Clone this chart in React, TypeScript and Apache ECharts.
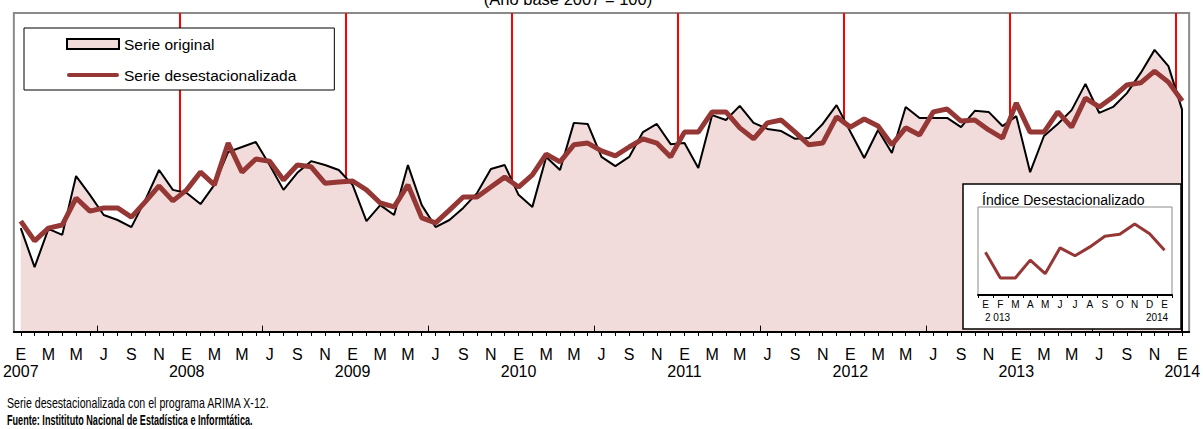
import React, { useEffect, useRef } from 'react';
import * as echarts from 'echarts';

// ---- Data ----
const monthLetters = ['E', 'F', 'M', 'A', 'M', 'J', 'J', 'A', 'S', 'O', 'N', 'D'];
const years = ['2007', '2008', '2009', '2010', '2011', '2012', '2013', '2014'];
const categories: string[] = Array.from({ length: 85 }, (_, i) => monthLetters[i % 12]);

// Serie original (índice, año base 2007 = 100)
const original = [
  94.3, 83.3, 94.1, 92.4, 109.0, 103.7, 98.0, 96.6, 94.6, 102.2, 110.7, 105.1, // 2007
  104.2, 101.1, 106.5, 115.8, 117.2, 118.6, 112.1, 105.1, 109.9, 113.2, 112.1, 110.7, // 2008
  106.5, 96.3, 100.8, 98.0, 112.1, 100.8, 94.6, 96.6, 100.0, 104.2, 111.0, 112.1, // 2009
  103.7, 100.3, 114.4, 110.7, 124.0, 123.7, 114.4, 111.8, 114.4, 121.4, 123.7, 118.0, // 2010
  118.3, 111.3, 126.2, 124.8, 128.8, 124.0, 122.3, 121.7, 119.5, 119.7, 123.7, 129.0, // 2011
  121.5, 114.1, 122.0, 115.5, 128.5, 125.4, 125.4, 125.4, 122.8, 127.4, 127.1, 123.1, // 2012
  125.9, 110.1, 120.3, 123.7, 127.6, 135.0, 126.8, 128.5, 132.4, 138.1, 144.6, 140.0, // 2013
  127.6, // 2014
];

// Serie desestacionalizada
const seasonallyAdjusted = [
  96.3, 90.7, 94.3, 95.2, 102.8, 99.1, 100.0, 100.0, 97.4, 101.7, 106.2, 102.0, // 2007
  105.1, 110.1, 106.5, 118.3, 110.1, 113.8, 113.2, 107.9, 112.1, 111.6, 107.0, 107.3, // 2008
  107.6, 105.1, 101.4, 100.3, 106.5, 97.2, 95.8, 99.4, 103.1, 103.1, 105.9, 108.7, // 2009
  105.9, 109.3, 115.2, 113.0, 117.8, 118.3, 116.1, 114.7, 117.2, 119.5, 118.3, 114.4, // 2010
  121.4, 121.4, 127.1, 127.1, 122.6, 119.5, 124.0, 124.8, 121.4, 117.8, 118.3, 125.7, // 2011
  122.8, 125.1, 123.1, 117.8, 122.6, 120.6, 127.1, 127.9, 124.5, 124.8, 122.0, 119.7, // 2012
  129.6, 121.4, 121.4, 127.1, 122.8, 131.0, 128.5, 131.3, 134.7, 135.3, 138.6, 135.5, // 2013
  130.2, // 2014
];

const insetStart = 72; // enero 2013
const yearBoundaries = [11.5, 23.5, 35.5, 47.5, 59.5, 71.5, 83.5];
const midYearTicks = [5.5, 17.5, 29.5, 41.5, 53.5, 65.5, 77.5];

const SANS = "'Liberation Sans', Arial, sans-serif";

const Y_MIN = 65;
const Y_MAX = 155;

export default function App() {
  const ref = useRef<HTMLDivElement>(null);

  useEffect(() => {
    document.body.style.margin = '0';
    if (!ref.current) return;
    const chart = echarts.init(ref.current, undefined, { renderer: 'svg' });
    const last = original.length - 1;

    const option: any = {
      animation: false,
      grid: [
        { left: 13, right: 10, top: 13, bottom: 97, show: true, borderColor: '#8a8a8a', borderWidth: 2, backgroundColor: '#fff' },
        { left: 978, top: 207, width: 194, height: 88, show: true, borderColor: '#8a8a8a', borderWidth: 1, z: 20 },
      ],
      legend: {
        left: 24,
        top: 28,
        orient: 'vertical',
        padding: [8, 38, 7, 42],
        itemGap: 15,
        itemWidth: 52,
        itemHeight: 10,
        borderColor: '#000',
        borderWidth: 1,
        backgroundColor: '#fff',
        selectedMode: false,
        textStyle: { fontFamily: SANS, fontSize: 15.5, color: '#000' },
        data: [
          { name: 'Serie original', icon: 'rect', itemStyle: { color: '#F2DCDB', borderColor: '#000', borderWidth: 2 } },
          {
            name: 'Serie desestacionalizada',
            icon: 'path://M2 0H50A2 2 0 0 1 50 4H2A2 2 0 0 1 2 0Z',
            itemStyle: { color: '#953735', borderWidth: 0 },
          },
        ],
      },
      xAxis: [
        {
          type: 'category',
          gridIndex: 0,
          data: categories,
          boundaryGap: true,
          z: 5,
          axisLine: { lineStyle: { color: '#000', width: 2 } },
          axisTick: { show: true, alignWithLabel: true, interval: 0, length: 4, lineStyle: { color: '#000', width: 1 } },
          axisLabel: {
            interval: 1,
            margin: 14,
            fontSize: 16,
            lineHeight: 17,
            color: '#000',
            fontFamily: SANS,
            formatter: (v: string, i: number) => (i % 12 === 0 ? `${v}\n${years[i / 12]}` : v),
          },
          splitLine: { show: false },
        },
        { type: 'value', gridIndex: 0, min: -0.5, max: 84.5, show: false },
        {
          type: 'category',
          gridIndex: 1,
          data: categories.slice(insetStart),
          boundaryGap: true,
          z: 21,
          axisLine: { lineStyle: { color: '#000', width: 2 } },
          axisTick: { show: true, interval: 0, length: 3, lineStyle: { color: '#000', width: 1 } },
          axisLabel: { interval: 0, margin: 4, fontSize: 10, color: '#000', fontFamily: SANS },
        },
        { type: 'value', gridIndex: 1, min: -0.5, max: 12.5, show: false },
      ],
      yAxis: [
        { type: 'value', gridIndex: 0, min: Y_MIN, max: Y_MAX, show: false },
        { type: 'value', gridIndex: 1, min: 116, max: 144, show: false },
      ],
      series: [
        {
          name: 'ref',
          type: 'line',
          xAxisIndex: 1,
          yAxisIndex: 0,
          data: [],
          z: 1,
          silent: true,
          markLine: {
            z: 1,
            silent: true,
            symbol: ['none', 'none'],
            label: { show: false },
            lineStyle: { color: '#ff0000', width: 2, type: 'solid' },
            data: yearBoundaries.map((b) => ({ xAxis: b })),
          },
        },
        {
          name: 'Serie original',
          type: 'line',
          xAxisIndex: 0,
          yAxisIndex: 0,
          data: original,
          symbol: 'none',
          z: 2,
          lineStyle: { color: '#000', width: 2 },
          itemStyle: { color: '#F2DCDB' },
          areaStyle: { color: '#F2DCDB', opacity: 1, origin: 'start' },
          markLine: {
            z: 4,
            silent: true,
            symbol: ['none', 'none'],
            label: { show: false },
            lineStyle: { color: '#000', width: 2, type: 'solid' },
            data: [[{ coord: [last, original[last]] }, { coord: [last, Y_MIN] }]],
          },
        },
        {
          name: 'Serie desestacionalizada',
          type: 'line',
          xAxisIndex: 0,
          yAxisIndex: 0,
          data: seasonallyAdjusted,
          symbol: 'none',
          z: 3,
          lineStyle: { color: '#953735', width: 5 },
          itemStyle: { color: '#953735' },
        },
        {
          name: 'ticks',
          type: 'line',
          xAxisIndex: 1,
          yAxisIndex: 0,
          data: [],
          z: 6,
          silent: true,
          markLine: {
            z: 6,
            silent: true,
            symbol: ['none', 'none'],
            label: { show: false },
            lineStyle: { color: '#000', width: 1, type: 'solid' },
            data: midYearTicks.map((t) => [{ coord: [t, Y_MIN] }, { coord: [t, Y_MIN + 1.8] }]),
          },
        },
        {
          name: 'inset',
          type: 'line',
          xAxisIndex: 2,
          yAxisIndex: 1,
          data: seasonallyAdjusted.slice(insetStart),
          symbol: 'none',
          z: 22,
          lineStyle: { color: '#953735', width: 3 },
        },
        {
          name: 'insetRef',
          type: 'line',
          xAxisIndex: 3,
          yAxisIndex: 1,
          data: [],
          z: 23,
          silent: true,
          markLine: {
            z: 25,
            silent: true,
            symbol: ['none', 'none'],
            label: { show: false },
            lineStyle: { color: '#ff0000', width: 1.5, type: 'solid' },
            data: [[{ coord: [11.5, 145.3] }, { coord: [11.5, 111.2] }]],
          },
        },
      ],
      graphic: [
        {
          type: 'text',
          x: 568,
          y: 7,
          z: 30,
          style: { text: '(Año base 2007 = 100)', fontSize: 16.5, fontFamily: SANS, fill: '#000', align: 'center', verticalAlign: 'bottom' },
        },
        {
          type: 'rect',
          z: 15,
          shape: { x: 963, y: 184, width: 218, height: 145 },
          style: { fill: '#fff', stroke: '#000', lineWidth: 1.5 },
        },
        {
          type: 'text',
          x: 982,
          y: 200,
          z: 30,
          style: { text: 'Índice Desestacionalizado', fontSize: 14, fontFamily: SANS, fill: '#000', align: 'left', verticalAlign: 'middle' },
        },
        {
          type: 'text',
          x: 985,
          y: 317,
          z: 30,
          style: { text: '2 013', fontSize: 10, fontFamily: SANS, fill: '#000', align: 'left', verticalAlign: 'middle' },
        },
        {
          type: 'text',
          x: 1157,
          y: 317,
          z: 30,
          style: { text: '2014', fontSize: 10, fontFamily: SANS, fill: '#000', align: 'center', verticalAlign: 'middle' },
        },
        {
          type: 'text',
          x: 7,
          y: 403,
          z: 30,
          scaleX: 0.76,
          scaleY: 1.1,
          style: { text: 'Serie desestacionalizada con el programa ARIMA X-12.', fontSize: 14, fontFamily: SANS, fill: '#000', align: 'left', verticalAlign: 'middle' },
        },
        {
          type: 'text',
          x: 7,
          y: 420,
          z: 30,
          scaleX: 0.65,
          style: { text: 'Fuente: Institituto Nacional de Estadística e Informtática.', fontSize: 14, fontWeight: 'bold', fontFamily: SANS, fill: '#000', align: 'left', verticalAlign: 'middle' },
        },
      ],
    };

    chart.setOption(option);
    return () => chart.dispose();
  }, []);

  return <div ref={ref} style={{ width: 1203, height: 429 }} />;
}
